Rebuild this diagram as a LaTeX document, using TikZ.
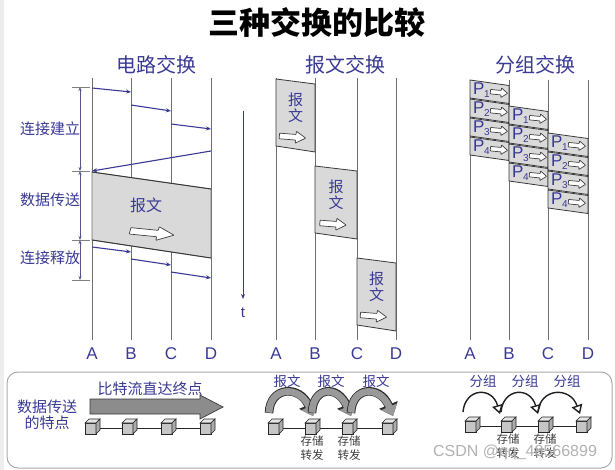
\documentclass[tikz,border=0pt]{standalone}
\usepackage{fontspec}
\setmainfont{Liberation Sans}
\newfontfamily\cjk{Noto Sans CJK SC}
\usetikzlibrary{arrows.meta}
\definecolor{blu}{HTML}{3A3A96}
\definecolor{lin}{HTML}{6E6E6E}
\definecolor{band}{HTML}{D9D9D9}
\tikzset{
 vline/.style={draw=lin, line width=0.9pt},
 bandedge/.style={draw=gray!40!black, line width=0.8pt},
 carr/.style={draw=blu, line width=1.1pt, -{Stealth[length=5pt,width=4pt]}},
 dimline/.style={draw=blu!60!gray, line width=0.6pt, {Stealth[length=4pt,width=3pt]}-{Stealth[length=4pt,width=3pt]}},
 tickline/.style={draw=gray, line width=0.6pt},
 ttl/.style={font=\cjk\bfseries\fontsize{31}{31}\selectfont, text=black},
 ptitle/.style={font=\cjk\fontsize{20}{20}\selectfont, text=blu},
 lab/.style={font=\cjk\fontsize{15}{16}\selectfont, text=blu, align=center, inner sep=0},
 abcd/.style={font=\fontsize{17}{17}\selectfont, text=blu},
 pfont/.style={font=\fontsize{17}{17}\selectfont, text=blu, inner sep=0},
 small/.style={font=\cjk\fontsize{11.5}{14}\selectfont, text=black!75, align=center, inner sep=0},
 pk/.style={fill=band, draw=gray!45!black, line width=0.8pt},
 cubeline/.style={draw=gray!30!black, line width=0.6pt},
 hollow/.pic={\filldraw[draw=gray!50!black, fill=white, line width=0.7pt, rounded corners=0.5pt]
   (-12,-2.8) -- (3,-2.8) -- (3,-6) -- (12,0) -- (3,6) -- (3,2.8) -- (-12,2.8) -- cycle;},
 cube/.pic={
   \filldraw[cubeline, fill=gray!45] (-7,-4) rectangle (4,7);
   \filldraw[cubeline, fill=gray!20] (-7,-4) -- (-3,-8) -- (8,-8) -- (4,-4) -- cycle;
   \filldraw[cubeline, fill=gray!65] (4,-4) -- (8,-8) -- (8,3) -- (4,7) -- cycle;},
 bigout/.style={draw=gray!35!black, line width=8.6pt, -{Triangle[width=19.5pt,length=12pt]}},
 bigcurve/.style={draw=gray!80, line width=6.8pt, -{Triangle[width=16.5pt,length=10pt]}},
 thinarc/.style={draw=gray!25!black, line width=1.4pt, -{Triangle[width=11pt,length=9pt,fill=white]}},
}
\begin{document}
\begin{tikzpicture}[x=1pt,y=-1pt]
\useasboundingbox (0,0) rectangle (615,470);
\fill[white] (0,0) rectangle (615,470);
\fill[black!7] (0,0) rectangle (4,470);

% title
\node[ttl] (title) at (317,23) {三种交换的比较};

% ---------------- circuit switching ----------------
\node[ptitle] (t1) at (156,65) {电路交换};
\foreach \n/\x in {A/92,B/131,C/171,D/211}{
  \coordinate (c\n t) at (\x,78);
  \coordinate (c\n b) at (\x,340);
  \draw[vline] (c\n t) -- (c\n b);
  \node[abcd] (cl\n) at (\x,354) {\n};
}
\filldraw[fill=band, draw=lin, line width=0.9pt] (92,172) -- (211,189) -- (211,258) -- (92,240) -- cycle;
\draw[bandedge] (92,172) -- (211,189);
\draw[bandedge] (92,240) -- (211,258);
\node[lab, font=\cjk\fontsize{16}{16}\selectfont] (cmsg) at (146,205) {报文};
\pic[xscale=1.85, yscale=1.15, rotate=-9] at (152,233) {hollow};

\coordinate (a1) at (92,88);   \coordinate (b1) at (131,92);
\coordinate (a2) at (131,105); \coordinate (b2) at (171,111);
\coordinate (a3) at (171,124); \coordinate (b3) at (211,129);
\coordinate (a4) at (211,151); \coordinate (b4) at (92,171);
\coordinate (a5) at (92,247);  \coordinate (b5) at (131,252);
\coordinate (a6) at (131,259); \coordinate (b6) at (171,265);
\coordinate (a7) at (171,272); \coordinate (b7) at (211,278);
\foreach \k in {1,...,7}{\draw[carr] (a\k) -- (b\k);}

% dimension lines
\foreach \y [count=\k] in {87,171,240,280}{
  \coordinate (dl\k) at (72,\y); \coordinate (dr\k) at (90,\y); \coordinate (dm\k) at (80,\y);
  \draw[tickline] (dl\k) -- (dr\k);
}
\draw[dimline] (dm1) -- (dm2);
\draw[dimline] (dm2) -- (dm3);
\draw[dimline] (dm3) -- (dm4);
\node[lab] (l1) at (50,129) {连接建立};
\node[lab] (l2) at (50,200) {数据传送};
\node[lab] (l3) at (50,258) {连接释放};

% time axis
\coordinate (ts) at (243,111);
\coordinate (te) at (243,299);
\draw[blu, line width=1pt, -{Stealth[length=5pt,width=4pt]}] (ts) -- (te);
\node[font=\fontsize{15}{15}\selectfont, text=blu] (tlab) at (243,313) {t};

% ---------------- message switching ----------------
\node[ptitle] (t2) at (345,65) {报文交换};
\foreach \n/\x in {A/276,B/315,C/357,D/396}{
  \coordinate (m\n t) at (\x,78);
  \coordinate (m\n b) at (\x,340);
  \draw[vline] (m\n t) -- (m\n b);
  \node[abcd] (ml\n) at (\x,354) {\n};
}
\foreach \xl/\xr/\yt/\k in {276/315/79/1, 315/357/166/2, 357/396/258/3}{
  \filldraw[pk] (\xl,\yt) -- (\xr,\yt+5) -- (\xr,\yt+73) -- (\xl,\yt+67) -- cycle;
  \node[lab] (mb\k) at ({(\xl+\xr)/2},\yt+29) {报\\文};
  \pic[xscale=1.1, rotate=-5] at ({(\xl+\xr)/2-3},\yt+58) {hollow};
}

% ---------------- packet switching ----------------
\node[ptitle] (t3) at (535,65) {分组交换};
\foreach \n/\x in {A/470,B/509,C/548,D/588}{
  \coordinate (p\n t) at (\x,80);
  \coordinate (p\n b) at (\x,340);
  \draw[vline] (p\n t) -- (p\n b);
  \node[abcd] (pl\n) at (\x,354) {\n};
}
\foreach \xl/\xr/\yt in {470/509/80, 509/548/106, 548/588/133}{
  \foreach \i in {1,2,3,4}{
    \pgfmathsetmacro\ya{\yt+19*(\i-1)}
    \filldraw[pk] (\xl,\ya) -- (\xr,\ya+5.5) -- (\xr,\ya+23.5) -- (\xl,\ya+18) -- cycle;
    \pic[xscale=0.72, yscale=0.8, rotate=-5] at (\xl+29,\ya+12.5) {hollow};
    \node[pfont, anchor=west] (pk-\xl-\i) at (\xl+3,\ya+10) {P\kern-0.5pt\raisebox{-3.5pt}{\fontsize{10}{10}\selectfont\i}};
  }
}

% ---------------- bottom box ----------------
\draw[gray!65, line width=1pt, rounded corners=11pt] (7,372) rectangle (612,468);

% circuit features
\node[lab] (f1) at (47,407) {数据传送};
\node[lab] (f2) at (47,423) {的特点};
\node[lab] (f3) at (150,389) {比特流直达终点};
\filldraw[fill=gray!90, draw=gray!45!black, line width=0.7pt]
  (90,399) -- (200,399) -- (200,395) -- (223,407) -- (200,419) -- (200,414) -- (90,414) -- cycle;
\draw[gray!30!black, line width=0.7pt] (92,428) -- (207,428);
\foreach \x [count=\k] in {92,129,168,207}{\coordinate (q\k) at (\x,427); \pic at (q\k) {cube};}

% message features
\draw[gray!30!black, line width=0.7pt] (275,428) -- (389,428);
\foreach \x [count=\k] in {275,312,349,389}{\coordinate (r\k) at (\x,427); \pic at (r\k) {cube};}
\foreach \x in {287,331,376}{\node[lab, font=\cjk\fontsize{13.5}{14}\selectfont] (ml-\x) at (\x,381) {报文};}
\foreach \sx/\ex in {269/313, 312/351, 351/393}{
  \draw[bigout] (\sx,413) .. controls (\sx+1,386) and (\ex-13,385) .. (\ex,416);
  \draw[bigcurve] (\sx,412.6) .. controls (\sx+1,386) and (\ex-13,385) .. (\ex,416);
}
\node[small] (s1) at (312,448) {存储\\转发};
\node[small] (s2) at (349,448) {存储\\转发};

% packet features
\draw[gray!30!black, line width=0.7pt] (472,426) -- (583,426);
\foreach \x [count=\k] in {472,508,545,583}{\coordinate (u\k) at (\x,425); \pic at (u\k) {cube};}
\foreach \x in {483,525,567}{\node[lab, font=\cjk\fontsize{13.5}{14}\selectfont] (gl-\x) at (\x,381) {分组};}
\draw[thinarc] (463,412) .. controls (465,388) and (492,386) .. (500,414);
\draw[thinarc] (501,412) .. controls (503,388) and (530,386) .. (538,414);
\draw[thinarc] (538,412) .. controls (540,388) and (570,386) .. (580,414);
\node[small] (s3) at (508,446) {存储\\转发};
\node[small] (s4) at (545,446) {存储\\转发};

% watermark
\node[font=\fontsize{16}{16}\selectfont, text=gray!60] (wm) at (515,452) {CSDN @qq\_48566899};
\end{tikzpicture}
\end{document}
